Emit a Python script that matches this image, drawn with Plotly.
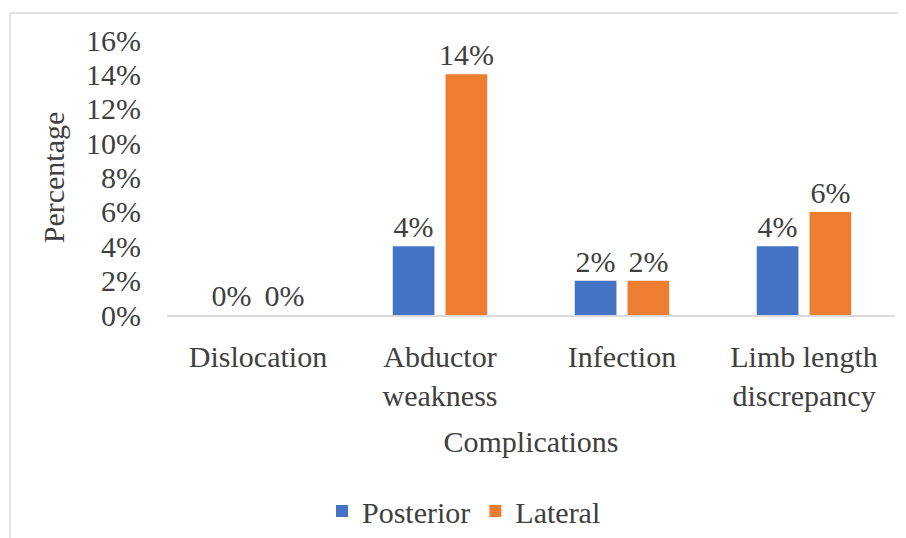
import plotly.graph_objects as go

categories = ["Dislocation", "Abductor<br>weakness", "Infection", "Limb length<br>discrepancy"]
posterior = [0.00, 0.04, 0.02, 0.04]
lateral = [0.00, 0.14, 0.02, 0.06]
y_ticks = [0, 0.02, 0.04, 0.06, 0.08, 0.10, 0.12, 0.14, 0.16]

FONT = "Liberation Serif, Times New Roman, serif"
TXT = "#404040"
FS = 30
W, H = 898, 530
L, R, T, B = 159, 11, 32, 223
pw, ph = W - L - R, H - T - B

fig = go.Figure()
fig.add_trace(go.Bar(name="Posterior", x=categories, y=posterior,
                     marker=dict(color="#4472C4", line=dict(width=14, color="rgba(0,0,0,0)")),
                     text=[f"{v*100:.0f}%" for v in posterior], textposition="outside",
                     constraintext="none",
                     textfont=dict(family=FONT, size=FS, color=TXT), cliponaxis=False))
fig.add_trace(go.Bar(name="Lateral", x=categories, y=lateral,
                     marker=dict(color="#ED7D31", line=dict(width=14, color="rgba(0,0,0,0)")),
                     text=[f"{v*100:.0f}%" for v in lateral], textposition="outside",
                     constraintext="none",
                     textfont=dict(family=FONT, size=FS, color=TXT), cliponaxis=False))

def px(x):
    return (x - L) / pw
def py(y):
    return (H - B - y) / ph

fig.update_layout(
    width=W, height=H,
    margin=dict(l=L, r=R, t=T, b=B, autoexpand=False),
    paper_bgcolor="white", plot_bgcolor="white",
    barmode="group", bargap=0.42, bargroupgap=0.21,
    font=dict(family=FONT, size=FS, color=TXT),
    showlegend=True,
    legend=dict(orientation="h", x=px(314), xanchor="left", y=py(503), yanchor="middle",
                font=dict(family=FONT, size=FS, color=TXT), itemwidth=30, traceorder="normal",
                tracegroupgap=0),
    xaxis=dict(showgrid=False, showline=True, linecolor="#d9d9d9", linewidth=1.5,
               ticks="", ticklabelstandoff=14, automargin=False,
               tickfont=dict(family=FONT, size=FS, color=TXT),
               title=dict(text="Complications", font=dict(family=FONT, size=FS, color=TXT), standoff=20)),
    yaxis=dict(range=[0, 0.16], tickvals=y_ticks, ticktext=[f"{v*100:.0f}%" for v in y_ticks],
               showgrid=False, zeroline=False, showline=False, ticks="", ticklabelstandoff=25,
               automargin=False,
               tickfont=dict(family=FONT, size=FS, color=TXT),
               title=dict(text="Percentage", font=dict(family=FONT, size=FS, color=TXT), standoff=12)),
    shapes=[
        dict(type="line", xref="paper", yref="paper", x0=px(2), x1=px(W + 5), y0=py(5), y1=py(5),
             line=dict(color="#d9d9d9", width=1.5)),
        dict(type="line", xref="paper", yref="paper", x0=px(2), x1=px(2), y0=py(5), y1=py(H + 5),
             line=dict(color="#d9d9d9", width=1.5)),
    ],
)

fig.write_html("out.html")
